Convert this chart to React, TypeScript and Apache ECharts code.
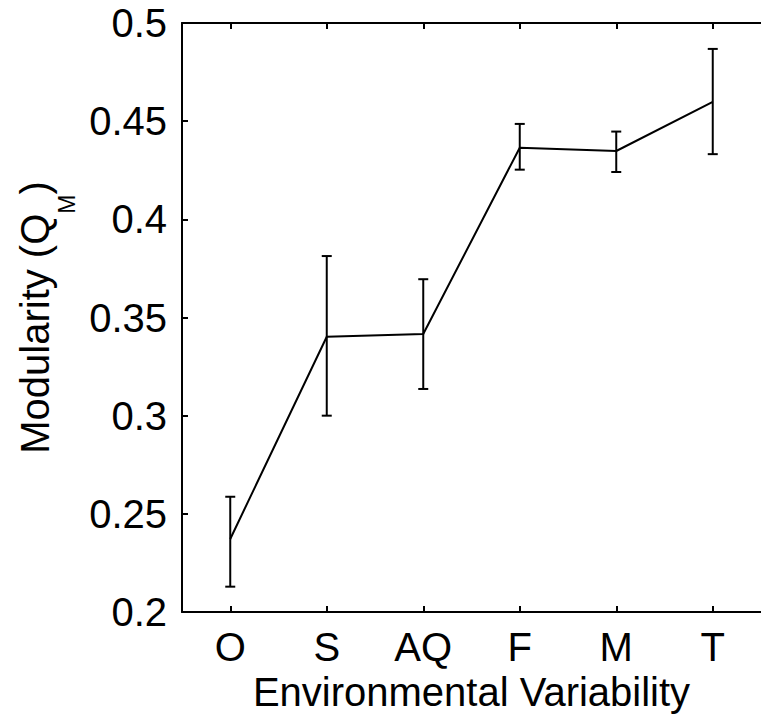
import React, { useEffect, useRef } from "react";
import * as echarts from "echarts";

const categories = ["O", "S", "AQ", "F", "M", "T"];
const meanValues = [0.2372, 0.3402, 0.3416, 0.4365, 0.4348, 0.4598];
const upperValues = [0.2587, 0.3813, 0.3695, 0.4486, 0.4447, 0.4868];
const lowerValues = [0.2129, 0.3, 0.3136, 0.4253, 0.4241, 0.4332];
const yTicks = { min: 0.2, max: 0.5, interval: 0.05 };

const FONT = "'Liberation Sans', Arial, sans-serif";

export default function App() {
  const ref = useRef<HTMLDivElement>(null);
  useEffect(() => {
    if (!ref.current) return;
    const chart = echarts.init(ref.current, null, { renderer: "svg" });
    const errData = categories.map((_, i) => [i, upperValues[i], lowerValues[i]]);
    const axisLine = { show: true, lineStyle: { color: "#000", width: 2 } };
    const axisTick = { show: true, inside: true, length: 6, lineStyle: { color: "#000", width: 2 } };
    chart.setOption({
      animation: false,
      backgroundColor: "#fff",
      grid: { left: 182, top: 23, width: 587, height: 589, containLabel: false },
      xAxis: [
        {
          type: "category",
          data: categories,
          position: "bottom",
          boundaryGap: true,
          axisLine,
          axisTick: { ...axisTick, alignWithLabel: true },
          axisLabel: { color: "#000", fontSize: 40, fontFamily: FONT, margin: 15 },
          splitLine: { show: false },
          name: "Environmental Variability",
          nameLocation: "middle",
          nameGap: 59,
          nameTextStyle: { color: "#000", fontSize: 40, fontFamily: FONT },
        },
        {
          type: "category",
          data: categories,
          position: "top",
          boundaryGap: true,
          axisLine,
          axisTick: { ...axisTick, alignWithLabel: true },
          axisLabel: { show: false },
          splitLine: { show: false },
        },
      ],
      yAxis: [
        {
          type: "value",
          min: yTicks.min,
          max: yTicks.max,
          interval: yTicks.interval,
          axisLine,
          axisTick,
          splitLine: { show: false },
          axisLabel: {
            color: "#000",
            fontSize: 40,
            fontFamily: FONT,
            margin: 15,
            formatter: (v: number) => String(+v.toFixed(2)),
          },
          name: "{a|Modularity (Q}{sub|M}{a|)}",
          nameLocation: "middle",
          nameGap: 122,
          nameRotate: 90,
          nameTextStyle: {
            color: "#000",
            fontSize: 40,
            fontFamily: FONT,
            rich: {
              a: { fontSize: 40, fontFamily: FONT, color: "#000", lineHeight: 44, verticalAlign: "top" },
              sub: {
                fontSize: 23,
                fontFamily: FONT,
                color: "#000",
                lineHeight: 24,
                verticalAlign: "top",
                padding: [40, 0, 0, 0],
              },
            },
          },
        },
      ],
      series: [
        {
          type: "line",
          data: meanValues,
          symbol: "none",
          lineStyle: { color: "#000", width: 2 },
          z: 3,
        },
        {
          type: "custom",
          data: errData,
          z: 4,
          renderItem: (params: any, api: any) => {
            const x = api.value(0);
            const hi = api.coord([x, api.value(1)]);
            const lo = api.coord([x, api.value(2)]);
            const hw = 5;
            const st = { stroke: "#000", lineWidth: 2 };
            return {
              type: "group",
              children: [
                { type: "line", shape: { x1: hi[0], y1: hi[1], x2: lo[0], y2: lo[1] }, style: st },
                { type: "line", shape: { x1: hi[0] - hw, y1: hi[1], x2: hi[0] + hw, y2: hi[1] }, style: st },
                { type: "line", shape: { x1: lo[0] - hw, y1: lo[1], x2: lo[0] + hw, y2: lo[1] }, style: st },
              ],
            };
          },
        },
      ],
    });
    return () => chart.dispose();
  }, []);
  return (
    <div
      ref={ref}
      style={{ position: "fixed", left: 0, top: 0, width: 761, height: 720, background: "#fff" }}
    />
  );
}
